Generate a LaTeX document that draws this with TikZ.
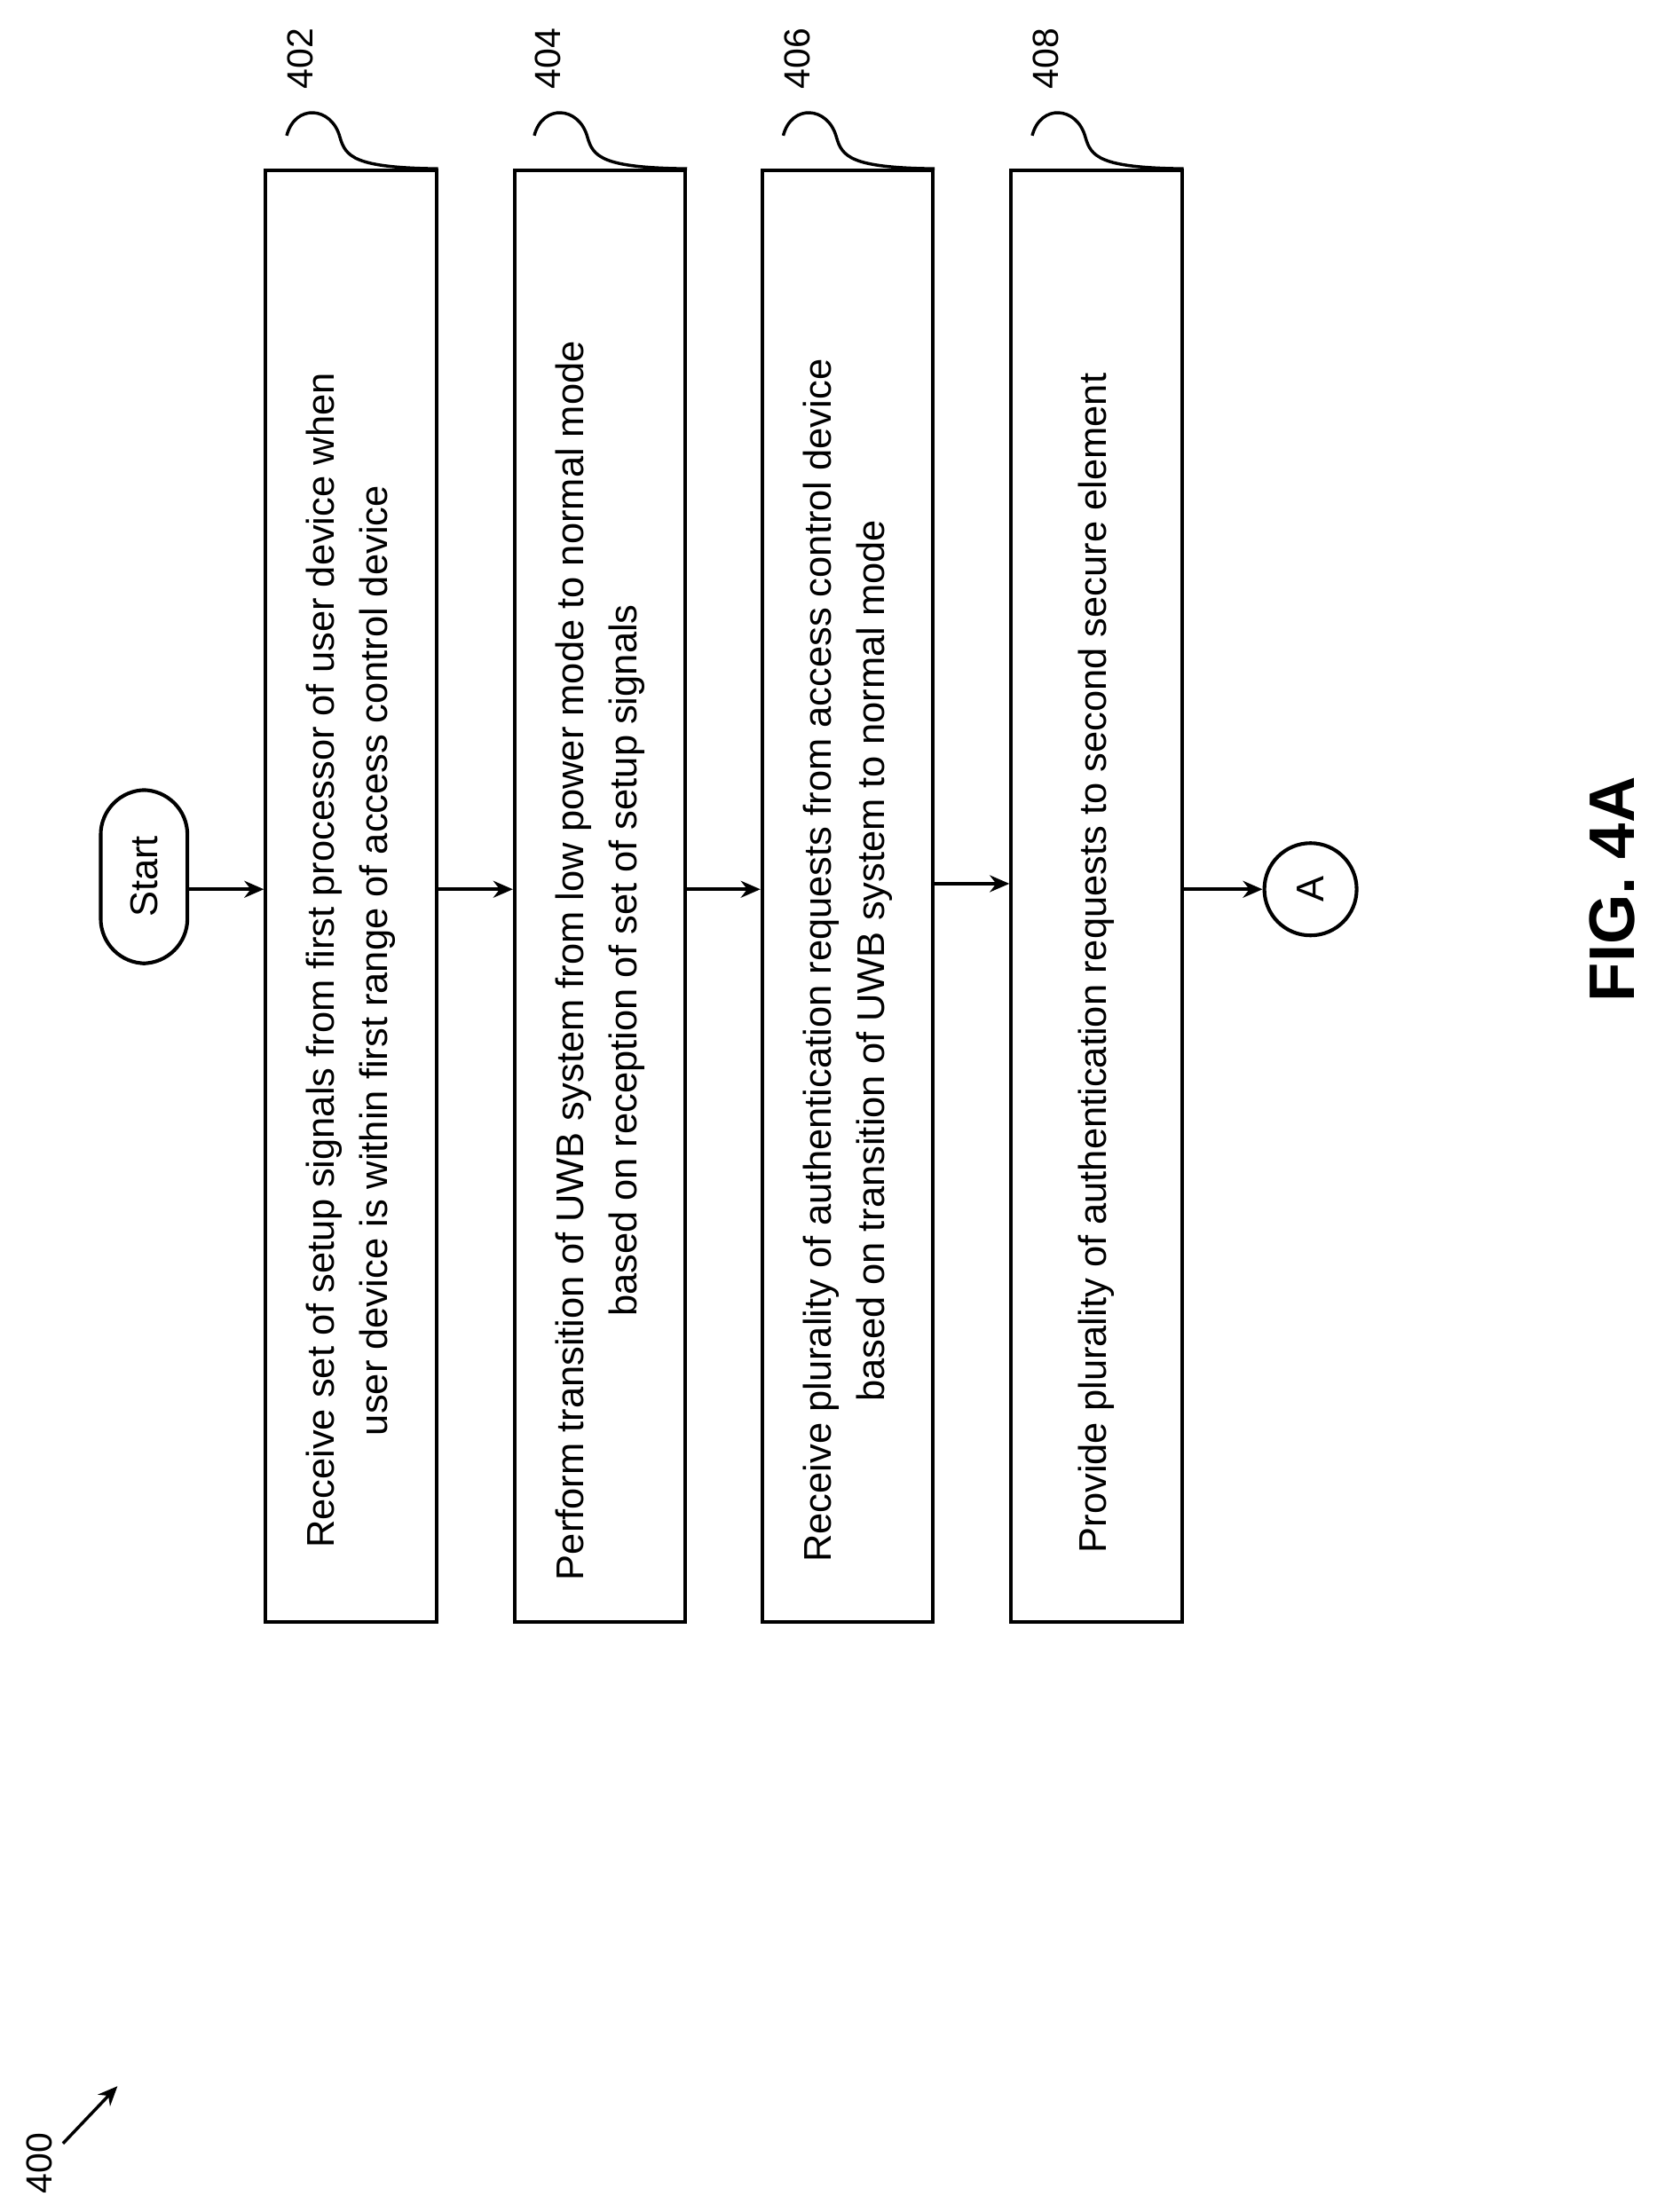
\documentclass[tikz,border=0pt]{standalone}
\usepackage{fontspec}
\setmainfont{Liberation Sans}
\usetikzlibrary{arrows.meta,positioning,calc}
\tikzset{
stepbox/.style = {draw, line width=1.3pt, rectangle, minimum width=61pt, minimum height=519pt, inner sep=0pt},
steptext/.style = {rotate=90, align=center, font=\fontsize{13.8}{19}\selectfont, inner sep=0pt},
term/.style = {draw, line width=1.3pt, rounded corners=16pt, minimum width=62pt, minimum height=31pt, rotate=90, font=\fontsize{13.8}{16}\selectfont},
conn/.style = {draw, line width=1.3pt, circle, minimum size=33pt, inner sep=0pt, font=\fontsize{13.8}{16}\selectfont},
reflabel/.style = {rotate=90, font=\fontsize{13}{15}\selectfont, inner sep=0pt},
lead/.style = {line width=1.1pt}
}
\begin{document}
\begin{tikzpicture}[x=0.5pt, y=-0.5pt, >={Stealth[length=7pt,width=6pt]}, line width=1.3pt]
\useasboundingbox (0,0) rectangle (1190,1582);
% start and connector
\node [term] (start) at (103,627) {Start};
\node [conn] (conA) at (937,636) {\rotatebox{90}{A}};
% steps
\node [stepbox] (b1) at (251,641) {};
\node [stepbox] (b2) at (429,641) {};
\node [stepbox] (b3) at (606,641) {};
\node [stepbox] (b4) at (784,641) {};
\node [steptext] (t1) at (251,687) {Receive set of setup signals from first processor of user device when\\user device is within first range of access control device};
\node [steptext] (t2) at (429,687) {Perform transition of UWB system from low power mode to normal mode\\based on reception of set of setup signals};
\node [steptext] (t3) at (606,687) {Receive plurality of authentication requests from access control device\\based on transition of UWB system to normal mode};
\node [steptext, anchor=west] (t4) at (784,1112) {Provide plurality of authentication requests to second secure element};
% flow
\draw [->] (start.south |- 0,636) -- (b1.west |- 0,636);
\draw [->] (b1.east |- 0,636) -- (b2.west |- 0,636);
\draw [->] (b2.east |- 0,636) -- (b3.west |- 0,636);
\draw [->] (b3.east |- 0,632) -- (b4.west |- 0,632);
\draw [->] (b4.east |- 0,636) -- (conA.west);
% reference numerals
\foreach \n/\x/\b in {402/215/b1, 404/392/b2, 406/570/b3, 408/748/b4}{
  \node [reflabel] (r\n) at (\x,42) {\n};
  \draw [lead] (\x-10,97) .. controls (\x-4,74) and (\x+22,76) .. (\x+28,98) .. controls (\x+32,112) and (\x+38,120) .. (\b.north east);
}
\node [reflabel] (r400) at (28,1547) {400};
\draw [->, lead] (45,1533) -- (84,1492);
\node [reflabel, font=\bfseries\fontsize{23}{26}\selectfont] (fig) at (1153,636) {FIG. 4A};
\end{tikzpicture}
\end{document}
